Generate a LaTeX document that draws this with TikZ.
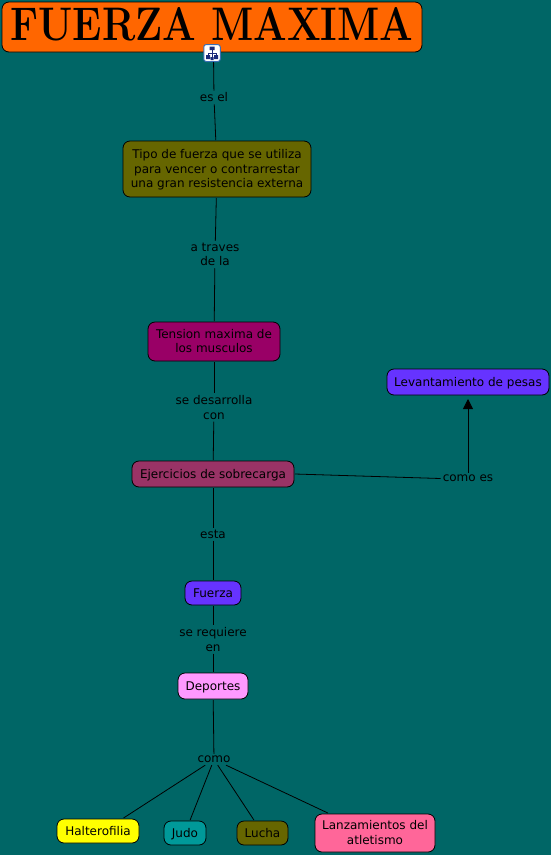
\documentclass[tikz,border=0pt]{standalone}
\usepackage{fontspec}
\setsansfont{DejaVu Sans}
\usetikzlibrary{arrows.meta}
\newcommand\tp{\rule{0pt}{11.5pt}}
\newcommand\bt{\rule[-3.5pt]{0pt}{0pt}}
\tikzset{
 box/.style={draw=black,line width=0.8pt,rounded corners=7pt,inner sep=0pt,align=center,font=\sffamily\fontsize{12}{14.5}\selectfont,text=black,outer sep=1pt},
 lab/.style={inner sep=2pt,align=center,font=\sffamily\fontsize{12}{14.5}\selectfont,text=black},
 conn/.style={draw=black,line width=0.8pt},
 arr/.style={conn,-{Triangle[length=10pt,width=10pt]},shorten >=3pt}
}
\begin{document}
\begin{tikzpicture}[x=1pt,y=-1pt]
\useasboundingbox (0,0) rectangle (551,855);
\fill[fill={rgb,255:red,0;green,102;blue,102}] (0,0) rectangle (551,855);
\definecolor{cA}{HTML}{FF6600}\definecolor{cB}{HTML}{666600}\definecolor{cC}{HTML}{990066}
\definecolor{cD}{HTML}{993366}\definecolor{cE}{HTML}{6633FF}\definecolor{cF}{HTML}{FF99FF}
\definecolor{cG}{HTML}{FFFF00}\definecolor{cH}{HTML}{009999}\definecolor{cI}{HTML}{FF6699}
\definecolor{iconb}{HTML}{3A6EB5}\definecolor{icond}{HTML}{1A2A7A}
% boxes
\node[box,fill=cA,minimum width=420pt,minimum height=50pt] (title) at (212,27)
  {\raisebox{3pt}[33pt][0pt]{\fontsize{46}{46}\selectfont\rmfamily\bfseries\resizebox{403pt}{33pt}{FUERZA MAXIMA}}};
\node[box,fill=cB,minimum width=188pt,minimum height=56pt] (tipo) at (217,169) {\tp Tipo de fuerza que se utiliza\\para vencer o contrarrestar\\una gran resistencia externa\bt};
\node[box,fill=cC,minimum width=132pt,minimum height=39pt] (tension) at (214,341.5) {\tp Tension maxima de\\los musculos\bt};
\node[box,fill=cD,minimum width=162pt,minimum height=26pt] (ejer) at (213,474) {\tp Ejercicios de sobrecarga\bt};
\node[box,fill=cE,minimum width=162pt,minimum height=26pt] (lev) at (468,382) {\tp Levantamiento de pesas\bt};
\node[box,fill=cE,minimum width=56pt,minimum height=24pt] (fuerza) at (213,593) {\tp Fuerza\bt};
\node[box,fill=cF,minimum width=70pt,minimum height=26pt] (dep) at (213,686) {\tp Deportes\bt};
\node[box,fill=cG,minimum width=82pt,minimum height=24pt] (hal) at (98,831) {\tp Halterofilia\bt};
\node[box,fill=cH,minimum width=42pt,minimum height=24pt] (judo) at (185,833) {\tp Judo\bt};
\node[box,fill=cB,minimum width=51pt,minimum height=24pt] (lucha) at (262.5,833) {\tp Lucha\bt};
\node[box,fill=cI,minimum width=120pt,minimum height=38pt] (lanz) at (375,833) {\tp Lanzamientos del\\atletismo\bt};
% labels
\node[lab] (l1) at (214,97.5) {es el};
\node[lab] (l2) at (215,254.5) {a traves\\de la};
\node[lab] (l3) at (214,407.5) {se desarrolla\\con};
\node[lab] (l4) at (213,534) {esta};
\node[lab] (l5) at (213,639.5) {se requiere\\en};
\node[lab] (l6) at (214,759.5) {como};
\node[lab] (l7) at (468,478.5) {como es};
% icon
\node[draw=iconb,fill=white,line width=1pt,rounded corners=2.5pt,minimum width=16.5pt,minimum height=17pt,inner sep=0pt,outer sep=0.5pt] (icon) at (212,53) {};
\draw[icond,line width=0.6pt] (212,50) -- (212,52) (208,53) -- (216,53) (208,53) -- (208,55) (216,53) -- (216,55) (212,52) -- (212,57);
\fill[icond] (209.5,46.5) rectangle (214.5,50) (206,55) rectangle (210,59) (214,55) rectangle (218,59) (210.5,57) rectangle (213.5,60);
% connectors
\draw[conn] (icon.-80) -- (l1);
\draw[conn] (l1) -- (tipo);
\draw[conn] (tipo) -- (l2);
\draw[conn] (l2) -- (tension);
\draw[conn] (tension) -- (l3);
\draw[conn] (l3) -- (ejer);
\draw[conn] (ejer) -- (l4);
\draw[conn] (l4) -- (fuerza);
\draw[conn] (fuerza) -- (l5);
\draw[conn] (l5) -- (dep);
\draw[conn] (dep) -- (l6);
\draw[conn] (l6) -- (hal.27);
\draw[conn] (l6) -- (judo);
\draw[conn] (l6) -- (lucha);
\draw[conn] (l6) -- (lanz.157);
\draw[conn] (ejer.east) -- (l7.west);
\draw[arr] (l7) -- (lev);
\end{tikzpicture}
\end{document}
